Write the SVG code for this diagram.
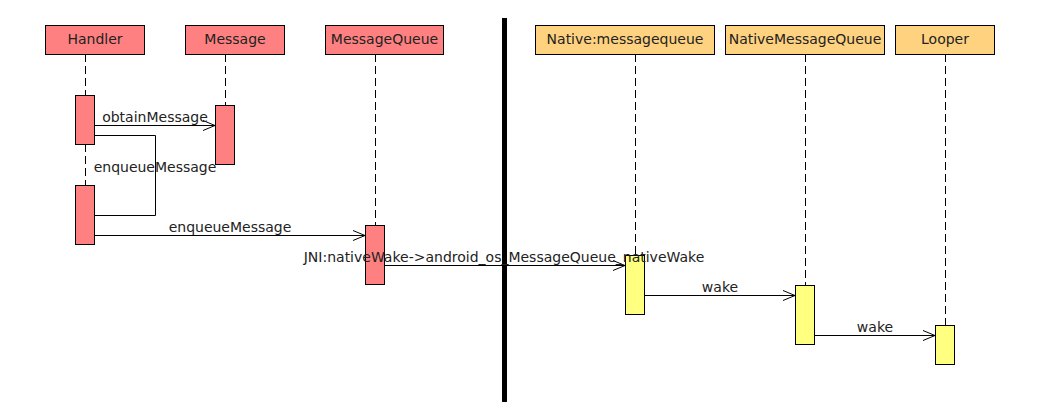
<svg xmlns="http://www.w3.org/2000/svg" width="1038" height="413" viewBox="0 0 1038 413">
<style>
text{font-family:"DejaVu Sans",sans-serif;font-size:14px;fill:#222;}
.hd{text-anchor:middle;}
.lbl{text-anchor:middle;}
.red{fill:#FF8080;stroke:#000;stroke-width:1;}
.org{fill:#FFD280;stroke:#000;stroke-width:1;}
.yel{fill:#FFFF80;stroke:#000;stroke-width:1;}
.life{stroke:#000;stroke-width:1;stroke-dasharray:8,4;fill:none;}
.msg{stroke:#000;stroke-width:1;fill:none;}
.arr{stroke:#000;stroke-width:1;fill:none;}
</style>
<rect width="1038" height="413" fill="#fff"/>
<g id="lifelines">
<line class="life" x1="85.5" y1="54" x2="85.5" y2="95"/>
<line class="life" x1="85.5" y1="144" x2="85.5" y2="185"/>
<line class="life" x1="225.5" y1="54" x2="225.5" y2="105"/>
<line class="life" x1="375.5" y1="54" x2="375.5" y2="225"/>
<line class="life" x1="635.5" y1="54" x2="635.5" y2="255"/>
<line class="life" x1="805.5" y1="54" x2="805.5" y2="285"/>
<line class="life" x1="945.5" y1="54" x2="945.5" y2="325"/>
</g>
<g id="n-handler"><rect class="red" x="45.5" y="25.5" width="99" height="29"/><text class="hd" x="95" y="43.5">Handler</text></g>
<g id="n-message"><rect class="red" x="185.5" y="25.5" width="99" height="29"/><text class="hd" x="235" y="43.5">Message</text></g>
<g id="n-messagequeue"><rect class="red" x="325.5" y="25.5" width="118" height="29"/><text class="hd" x="384.5" y="43.5">MessageQueue</text></g>
<g id="n-native"><rect class="org" x="535.5" y="25.5" width="179" height="29"/><text class="hd" x="625" y="43.5">Native:messagequeue</text></g>
<g id="n-nativemq"><rect class="org" x="725.5" y="25.5" width="159" height="29"/><text class="hd" x="805" y="43.5">NativeMessageQueue</text></g>
<g id="n-looper"><rect class="org" x="895.5" y="25.5" width="99" height="29"/><text class="hd" x="945" y="43.5">Looper</text></g>
<g id="activations">
<rect class="red" x="75.5" y="95.5" width="19" height="49"/>
<rect class="red" x="215.5" y="105.5" width="19" height="59"/>
<rect class="red" x="75.5" y="185.5" width="19" height="59"/>
<rect class="red" x="365.5" y="225.5" width="19" height="59"/>
<rect class="yel" x="625.5" y="255.5" width="19" height="59"/>
<rect class="yel" x="795.5" y="285.5" width="19" height="59"/>
<rect class="yel" x="935.5" y="325.5" width="19" height="39"/>
</g>
<g id="separator"><rect x="502" y="18" width="5" height="384" fill="#000"/></g>
<g id="connectors">
<line class="msg" x1="95" y1="125.5" x2="215" y2="125.5"/>
<polyline class="arr" points="203,120.5 215,125.5 203,130.5"/>
<polyline class="msg" points="95,135.5 155.5,135.5 155.5,215.5 95,215.5"/>
<line class="msg" x1="95" y1="235.5" x2="365" y2="235.5"/>
<polyline class="arr" points="353,230.5 365,235.5 353,240.5"/>
<line class="msg" x1="385" y1="265.5" x2="625" y2="265.5"/>
<polyline class="arr" points="613,260.5 625,265.5 613,270.5"/>
<line class="msg" x1="645" y1="295.5" x2="795" y2="295.5"/>
<polyline class="arr" points="783,290.5 795,295.5 783,300.5"/>
<line class="msg" x1="815" y1="335.5" x2="935" y2="335.5"/>
<polyline class="arr" points="923,330.5 935,335.5 923,340.5"/>
</g>
<g id="labels">
<text class="lbl" x="155" y="122">obtainMessage</text>
<text class="lbl" x="155" y="172">enqueueMessage</text>
<text class="lbl" x="230" y="232">enqueueMessage</text>
<text class="lbl" x="504" y="262">JNI:nativeWake-&gt;android_os_MessageQueue_nativeWake</text>
<text class="lbl" x="720" y="292">wake</text>
<text class="lbl" x="875" y="332">wake</text>
</g>
</svg>
